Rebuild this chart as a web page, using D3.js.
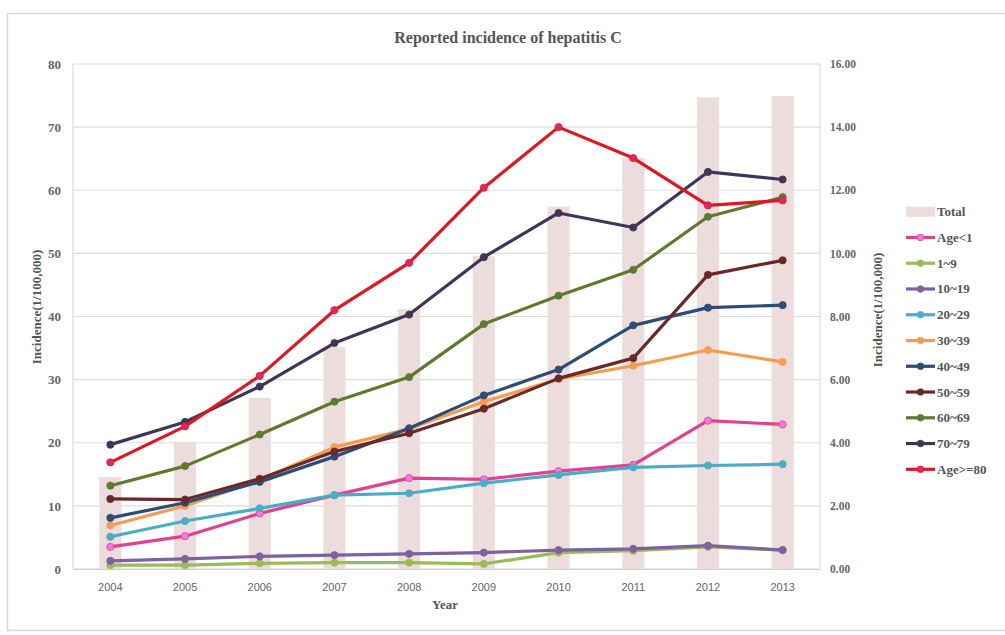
<!DOCTYPE html>
<html><head><meta charset="utf-8">
<script src="https://cdn.jsdelivr.net/npm/d3@7"></script>
<style>body{margin:0;background:#fff;}svg{display:block;}</style>
</head><body>
<svg id="c" width="1005" height="635"></svg>
<script>
const years = ["2004","2005","2006","2007","2008","2009","2010","2011","2012","2013"];
const total = [2.91,4.03,5.42,7.03,8.24,9.92,11.48,13.02,14.94,14.99];
const ageLt1 = [3.5,5.2,8.8,11.7,14.4,14.2,15.5,16.5,23.5,22.9];
const age1_9 = [0.6,0.6,0.9,1.0,1.0,0.8,2.6,2.9,3.5,3.0];
const age10_19 = [1.3,1.6,2.0,2.2,2.4,2.6,3.0,3.2,3.7,3.0];
const age20_29 = [5.1,7.6,9.6,11.7,12.0,13.6,14.9,16.1,16.4,16.6];
const age30_39 = [6.9,10.0,14.1,19.3,22.2,26.5,30.1,32.2,34.7,32.8];
const age40_49 = [8.1,10.5,13.8,17.8,22.3,27.5,31.6,38.6,41.4,41.8];
const age50_59 = [11.1,11.0,14.3,18.6,21.5,25.4,30.2,33.4,46.6,48.9];
const age60_69 = [13.2,16.3,21.3,26.5,30.4,38.8,43.3,47.4,55.8,58.9];
const age70_79 = [19.7,23.3,28.9,35.8,40.3,49.4,56.4,54.1,62.9,61.7];
const ageGe80 = [16.9,22.6,30.6,41.0,48.5,60.4,70.0,65.1,57.6,58.4];
const leftTicks = [0,10,20,30,40,50,60,70,80];
const rightTicks = [0,2,4,6,8,10,12,14,16];

const series = [
  {name:"Age<1", values:ageLt1, color:"#e2418e", marker:"#f07be0"},
  {name:"1~9", values:age1_9, color:"#9bbb59", marker:"#9bbb59"},
  {name:"10~19", values:age10_19, color:"#7d61a0", marker:"#7d61a0"},
  {name:"20~29", values:age20_29, color:"#4bacc6", marker:"#4bacc6"},
  {name:"30~39", values:age30_39, color:"#f59d4f", marker:"#f59d4f"},
  {name:"40~49", values:age40_49, color:"#2c4d75", marker:"#2c4d75"},
  {name:"50~59", values:age50_59, color:"#6b2828", marker:"#6b2828"},
  {name:"60~69", values:age60_69, color:"#5f7a2e", marker:"#5f7a2e"},
  {name:"70~79", values:age70_79, color:"#3f3656", marker:"#3f3656"},
  {name:"Age>=80", values:ageGe80, color:"#e3161f", marker:"#e2246a"}
];

const svg = d3.select("#c");
const serif = "'Liberation Serif','DejaVu Serif',serif";
const sans = "'Liberation Sans','DejaVu Sans',sans-serif";

// outer frame
svg.append("rect").attr("x",7.5).attr("y",13.5).attr("width",1000).attr("height",617)
  .attr("fill","#fff").attr("stroke","#d9d9d9").attr("stroke-width",1.5);

const L=73, R=820, T=64, B=569;
const x = d3.scaleBand().domain(years).range([L,R]);
const yL = d3.scaleLinear().domain([0,80]).range([B,T]);
const yR = d3.scaleLinear().domain([0,16]).range([B,T]);

// grid
svg.append("g").selectAll("line").data(leftTicks).join("line")
  .attr("x1",L).attr("x2",R).attr("y1",d=>yL(d)).attr("y2",d=>yL(d))
  .attr("stroke","#dcdcdc").attr("stroke-width",1.2);
svg.append("line").attr("x1",L).attr("x2",L).attr("y1",T).attr("y2",B).attr("stroke","#dcdcdc").attr("stroke-width",1.2);
svg.append("line").attr("x1",R).attr("x2",R).attr("y1",T).attr("y2",B).attr("stroke","#dcdcdc").attr("stroke-width",1.2);

// bars
const bw = 22;
svg.append("g").selectAll("rect").data(total).join("rect")
  .attr("x",(d,i)=>x(years[i])+x.bandwidth()/2-bw/2)
  .attr("width",bw)
  .attr("y",d=>yR(d)).attr("height",d=>B-yR(d))
  .attr("fill","#ecdcdb");

// axes
const axL = svg.append("g").attr("transform",`translate(${L},0)`)
  .call(d3.axisLeft(yL).tickValues(leftTicks).tickSize(0).tickPadding(12));
axL.select(".domain").remove();
axL.selectAll("text").attr("font-family",serif).attr("font-weight","bold").attr("font-size",13).attr("fill","#666");

const axR = svg.append("g").attr("transform",`translate(${R},0)`)
  .call(d3.axisRight(yR).tickValues(rightTicks).tickFormat(d3.format(".2f")).tickSize(0).tickPadding(10));
axR.select(".domain").remove();
axR.selectAll("text").attr("font-family",serif).attr("font-weight","bold").attr("font-size",11.5).attr("fill","#666");

const axB = svg.append("g").attr("transform",`translate(0,${B})`)
  .call(d3.axisBottom(x).tickSize(0).tickPadding(14));
axB.select(".domain").attr("stroke","#d0d0d0").attr("stroke-width",1.2);
axB.selectAll("text").attr("font-family",sans).attr("font-size",11).attr("fill","#666");

// titles
svg.append("text").attr("x",508).attr("y",43).attr("text-anchor","middle")
  .attr("font-family",serif).attr("font-weight","bold").attr("font-size",16).attr("fill","#555")
  .text("Reported incidence of hepatitis C");
svg.append("text").attr("x",445).attr("y",609).attr("text-anchor","middle")
  .attr("font-family",serif).attr("font-weight","bold").attr("font-size",13).attr("fill","#555").text("Year");
svg.append("text").attr("transform","translate(41,307) rotate(-90)").attr("text-anchor","middle")
  .attr("font-family",serif).attr("font-weight","bold").attr("font-size",13).attr("fill","#555").text("Incidence(1/100,000)");
svg.append("text").attr("transform","translate(882,310) rotate(-90)").attr("text-anchor","middle")
  .attr("font-family",serif).attr("font-weight","bold").attr("font-size",13).attr("fill","#555").text("Incidence(1/100,000)");

// lines
const cx = i => x(years[i]) + x.bandwidth()/2;
const line = d3.line().x((d,i)=>cx(i)).y(d=>yL(d));
const g = svg.append("g");
series.forEach(s=>{
  g.append("path").datum(s.values).attr("d",line).attr("fill","none")
    .attr("stroke",s.color).attr("stroke-width",3.2).attr("stroke-linejoin","round");
  g.append("g").selectAll("circle").data(s.values).join("circle")
    .attr("cx",(d,i)=>cx(i)).attr("cy",d=>yL(d)).attr("r",3.6)
    .attr("fill",s.marker).attr("stroke",s.color).attr("stroke-width",0.8);
});

// legend
const legItems = [{name:"Total", bar:true}].concat(series);
const lg = svg.append("g");
legItems.forEach((s,i)=>{
  const yy = 211.7 + i*25.76;
  if (s.bar) {
    lg.append("rect").attr("x",906).attr("y",yy-5).attr("width",29).attr("height",10).attr("fill","#ecdcdb");
  } else {
    lg.append("line").attr("x1",906).attr("x2",935).attr("y1",yy).attr("y2",yy)
      .attr("stroke",s.color).attr("stroke-width",3.2);
    lg.append("circle").attr("cx",920.5).attr("cy",yy).attr("r",3.3).attr("fill",s.marker).attr("stroke",s.color).attr("stroke-width",0.8);
  }
  lg.append("text").attr("x",937).attr("y",yy+4.5).attr("font-family",serif).attr("font-weight","bold")
    .attr("font-size",13).attr("fill","#555").text(s.name);
});
</script>
</body></html>
